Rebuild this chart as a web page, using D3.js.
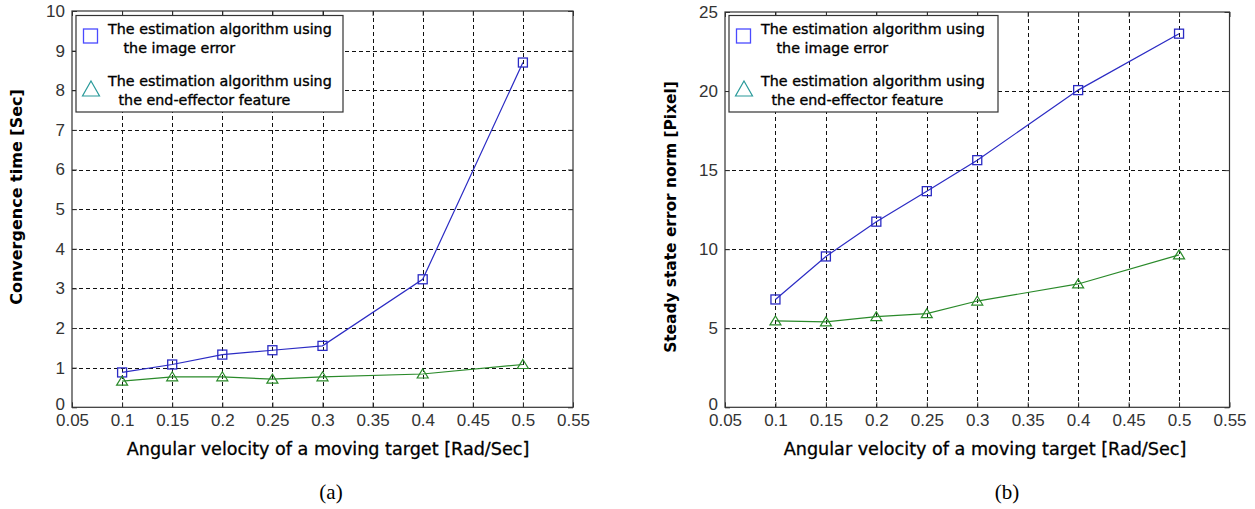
<!DOCTYPE html>
<html><head><meta charset="utf-8">
<script src="https://cdn.jsdelivr.net/npm/d3@7/dist/d3.min.js"></script>
<style>body{margin:0;background:#fff}svg{display:block}</style>
</head><body>
<svg id="chart" width="1255" height="509"></svg>
<script>
// ---- data ----
const xValues = [0.1, 0.15, 0.2, 0.25, 0.3, 0.4, 0.5];
const convImageError = [0.88, 1.08, 1.33, 1.44, 1.55, 3.23, 8.70];
const convEndEffector = [0.66, 0.77, 0.77, 0.71, 0.77, 0.84, 1.08];
const errImageError = [6.82, 9.54, 11.74, 13.67, 15.63, 20.06, 23.63];
const errEndEffector = [5.46, 5.40, 5.73, 5.92, 6.72, 7.80, 9.64];
const xTicks = [0.05, 0.1, 0.15, 0.2, 0.25, 0.3, 0.35, 0.4, 0.45, 0.5, 0.55];
const xTickLabels = ["0.05", "0.1", "0.15", "0.2", "0.25", "0.3", "0.35", "0.4", "0.45", "0.5", "0.55"];
const convYTicks = [0, 1, 2, 3, 4, 5, 6, 7, 8, 9, 10];
const errYTicks = [0, 5, 10, 15, 20, 25];
const legendImage = ["The estimation algorithm using", "the image error"];
const legendEnd = ["The estimation algorithm using", "the end-effector feature"];
const xAxisLabel = "Angular velocity of a moving target [Rad/Sec]";
const convYLabel = "Convergence time [Sec]";
const errYLabel = "Steady state error norm [Pixel]";
const captions = ["(a)", "(b)"];

// ---- styles ----
const BLUE = "#2b2bc4", GREEN = "#2a8a2a", LEG_BLUE = "#4a4aff", LEG_TRI = "#2a9a9a";
const TICK_FONT = "'Liberation Sans Narrow','Arial Narrow','Liberation Sans',sans-serif";
const LABEL_FONT = "'DejaVu Sans',sans-serif";

const svg = d3.select("#chart");
svg.append("rect").attr("width", 1255).attr("height", 509).attr("fill", "#fff");

const panels = [
  { x0: 72, x1: 573, yTop: 11, yBot: 407.3, yTicks: convYTicks, imgData: convImageError, endData: convEndEffector,
    legend: { x: 76, y: 15.5, w: 267, h: 96.5 }, yLabel: convYLabel, yLabelX: 16, yLabelY: 197, yLabelSize: 16,
    xLabelX: 328, caption: captions[0], captionX: 331 },
  { x0: 725, x1: 1229.5, yTop: 12, yBot: 407.3, yTicks: errYTicks, imgData: errImageError, endData: errEndEffector,
    legend: { x: 729, y: 15.5, w: 269, h: 96.5 }, yLabel: errYLabel, yLabelX: 671, yLabelY: 217, yLabelSize: 15.4,
    xLabelX: 985, caption: captions[1], captionX: 1007 }
];

function drawPanel(p) {
  const g = svg.append("g");
  const x = d3.scaleLinear().domain([xTicks[0], xTicks[xTicks.length - 1]]).range([p.x0, p.x1]);
  const yMax = p.yTicks[p.yTicks.length - 1];
  const y = d3.scaleLinear().domain([0, yMax]).range([p.yBot, p.yTop]);

  // grid
  const grid = g.append("g").attr("stroke", "#111").attr("stroke-width", 1).attr("stroke-dasharray", "4,3").attr("shape-rendering", "crispEdges");
  grid.selectAll("line.vx").data(xTicks.slice(1, -1)).join("line")
    .attr("x1", d => Math.round(x(d)) + 0.5).attr("x2", d => Math.round(x(d)) + 0.5)
    .attr("y1", y(yMax)).attr("y2", y(0));
  grid.selectAll("line.hy").data(p.yTicks.slice(1, -1)).join("line")
    .attr("y1", d => Math.round(y(d)) + 0.5).attr("y2", d => Math.round(y(d)) + 0.5)
    .attr("x1", x.range()[0]).attr("x2", x.range()[1]);

  // axes
  const fmt = d => xTickLabels[xTicks.indexOf(d)];
  const bottom = g.append("g").attr("transform", `translate(0,${y(0)})`)
    .call(d3.axisBottom(x).tickValues(xTicks).tickFormat(fmt).tickSizeInner(-5).tickSizeOuter(0).tickPadding(7));
  const top = g.append("g").attr("transform", `translate(0,${y(yMax)})`)
    .call(d3.axisTop(x).tickValues(xTicks).tickFormat("").tickSizeInner(-5).tickSizeOuter(0));
  const left = g.append("g").attr("transform", `translate(${x.range()[0]},0)`)
    .call(d3.axisLeft(y).tickValues(p.yTicks).tickFormat(d3.format("d")).tickSizeInner(-5).tickSizeOuter(0).tickPadding(7));
  const right = g.append("g").attr("transform", `translate(${x.range()[1]},0)`)
    .call(d3.axisRight(y).tickValues(p.yTicks).tickFormat("").tickSizeInner(-5).tickSizeOuter(0));
  [bottom, top, left, right].forEach(a => {
    a.select(".domain").remove();
    a.selectAll("line").attr("stroke", "#333");
    a.selectAll("text").attr("font-family", TICK_FONT).attr("font-size", 17).attr("fill", "#333");
  });
  // lift the zero label a little, as in the reference
  left.selectAll(".tick").filter(d => d === 0).select("text").attr("dy", "0.1em");
  // box
  g.append("rect").attr("x", x.range()[0]).attr("y", y(yMax)).attr("width", x.range()[1] - x.range()[0])
    .attr("height", y(0) - y(yMax)).attr("fill", "none").attr("stroke", "#333").attr("stroke-width", 1.2);

  // series
  const pts1 = xValues.map((v, i) => [x(v), y(p.imgData[i])]);
  const pts2 = xValues.map((v, i) => [x(v), y(p.endData[i])]);
  const line = d3.line();
  g.append("path").attr("d", line(pts2)).attr("fill", "none").attr("stroke", GREEN).attr("stroke-width", 1.2);
  g.append("path").attr("d", line(pts1)).attr("fill", "none").attr("stroke", BLUE).attr("stroke-width", 1.2);
  g.selectAll("rect.mk").data(pts1).join("rect")
    .attr("x", d => d[0] - 4.5).attr("y", d => d[1] - 4.5).attr("width", 9).attr("height", 9)
    .attr("fill", "none").attr("stroke", BLUE).attr("stroke-width", 1.3);
  g.selectAll("path.tri").data(pts2).join("path")
    .attr("d", d => `M${d[0]},${d[1] - 5}L${d[0] + 5.5},${d[1] + 4}L${d[0] - 5.5},${d[1] + 4}Z`)
    .attr("fill", "none").attr("stroke", GREEN).attr("stroke-width", 1.2);

  // legend
  const L = p.legend;
  const lg = g.append("g");
  lg.append("rect").attr("x", L.x).attr("y", L.y).attr("width", L.w).attr("height", L.h)
    .attr("fill", "#fff").attr("stroke", "#333").attr("stroke-width", 1.2);
  lg.append("rect").attr("x", L.x + 7.5).attr("y", L.y + 13.5).attr("width", 14).attr("height", 14)
    .attr("fill", "none").attr("stroke", LEG_BLUE).attr("stroke-width", 1.3);
  const tx = L.x + 15, ty = L.y + 73.5;
  lg.append("path").attr("d", `M${tx},${ty - 8}L${tx + 8.5},${ty + 7}L${tx - 8.5},${ty + 7}Z`)
    .attr("fill", "none").attr("stroke", LEG_TRI).attr("stroke-width", 1.2);
  const lines = [
    [legendImage[0], 32, 13.3], [legendImage[1], 47.5, 32.5],
    [legendEnd[0], 32, 65.7], [legendEnd[1], 42.5, 84.3]
  ];
  lg.selectAll("text").data(lines).join("text")
    .attr("x", d => L.x + d[1]).attr("y", d => L.y + d[2]).attr("dominant-baseline", "central")
    .attr("font-family", LABEL_FONT).attr("font-size", 14.3).attr("fill", "#000")
    .attr("stroke", "#000").attr("stroke-width", 0.35).text(d => d[0]);

  // axis labels
  g.append("text").attr("x", p.xLabelX).attr("y", 449).attr("text-anchor", "middle").attr("dominant-baseline", "central")
    .attr("font-family", LABEL_FONT).attr("font-size", 17.6).attr("fill", "#000")
    .attr("stroke", "#000").attr("stroke-width", 0.3).text(xAxisLabel);
  g.append("text").attr("transform", `translate(${p.yLabelX},${p.yLabelY}) rotate(-90)`)
    .attr("text-anchor", "middle").attr("dominant-baseline", "central")
    .attr("font-family", LABEL_FONT).attr("font-weight", "bold").attr("font-size", p.yLabelSize).attr("fill", "#000").text(p.yLabel);
  g.append("text").attr("x", p.captionX).attr("y", 492).attr("text-anchor", "middle").attr("dominant-baseline", "central")
    .attr("font-family", "'Liberation Serif','Times New Roman',serif").attr("font-size", 21).attr("fill", "#000").text(p.caption);
}
panels.forEach(drawPanel);
</script>
</body></html>
